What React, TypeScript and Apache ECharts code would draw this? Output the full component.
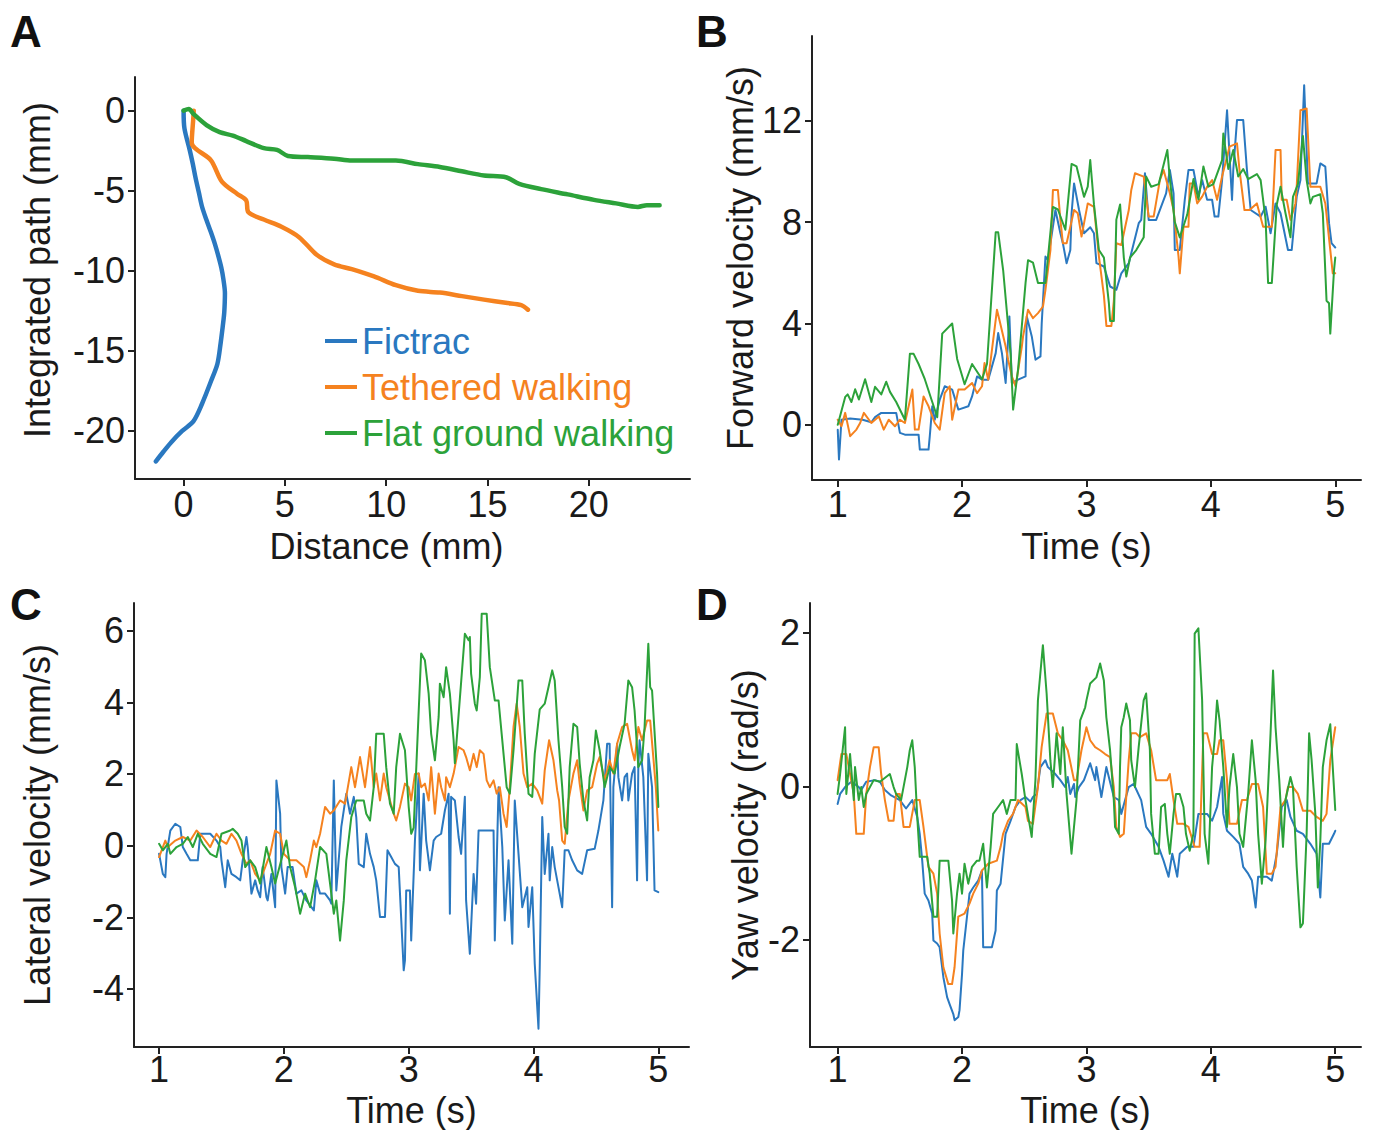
import React, { useEffect, useRef } from 'react';
import * as echarts from 'echarts';

const FONT = '"Liberation Sans", Arial, Helvetica, sans-serif';
const TEXT = '#1a1a1a';
const AXIS = '#222222';
const BLUE = '#2a78c0';
const ORANGE = '#f5821f';
const GREEN = '#2ca23a';

const seriesNames = ['Fictrac', 'Tethered walking', 'Flat ground walking'];

// Panel A: integrated path [distance mm, integrated path mm]
const aFictrac = [[0,0],[0.04,-1.1],[0.3,-2.45],[0.45,-3.3],[0.59,-4.2],[0.75,-5.1],[0.91,-6.0],[1.12,-6.8],[1.35,-7.6],[1.55,-8.35],[1.72,-9.1],[1.86,-9.8],[1.96,-10.5],[2.04,-11.4],[2.03,-12.0],[2.0,-12.7],[1.92,-13.6],[1.83,-14.5],[1.67,-15.8],[1.35,-16.9],[0.91,-18.3],[0.48,-19.4],[-0.07,-20.0],[-0.61,-20.7],[-1.0,-21.3],[-1.37,-21.9]];
const aTethered = [[0.5,0],[0.48,-0.45],[0.4,-2.0],[1.35,-3.1],[1.9,-4.45],[2.65,-5.2],[3.09,-5.6],[3.2,-6.35],[3.96,-6.8],[4.83,-7.25],[5.7,-7.9],[6.57,-9.0],[7.43,-9.6],[8.3,-9.9],[9.4,-10.35],[10.48,-10.9],[11.57,-11.25],[12.65,-11.36],[13.74,-11.58],[14.83,-11.8],[15.9,-12.0],[16.67,-12.14],[17.0,-12.43]];
const aFlat = [[0,0],[0.26,0.1],[0.48,-0.2],[1.13,-0.9],[1.78,-1.34],[2.43,-1.56],[3.09,-1.9],[3.96,-2.34],[4.61,-2.45],[5.15,-2.83],[6.13,-2.9],[7.43,-3.0],[8.3,-3.12],[10.48,-3.12],[11.57,-3.34],[12.65,-3.52],[13.74,-3.79],[14.83,-4.05],[15.91,-4.16],[16.57,-4.57],[17.65,-4.9],[18.96,-5.23],[20.26,-5.57],[21.35,-5.79],[22.43,-6.01],[22.87,-5.9],[23.5,-5.9]];

// Panel B: forward velocity [time s, mm/s]
const bFictrac = [[1.0,-0.2],[1.01,-1.37],[1.03,0.2],[1.1,0.25],[1.2,0.2],[1.27,0.1],[1.3,0.3],[1.35,0.47],[1.47,0.47],[1.5,-0.32],[1.54,-0.39],[1.65,-0.39],[1.66,-0.98],[1.73,-0.98],[1.74,-0.45],[1.76,0.73],[1.78,0.2],[1.82,0.99],[1.86,1.52],[1.92,1.39],[1.97,0.6],[2.05,0.73],[2.08,1.12],[2.12,1.91],[2.16,1.78],[2.21,1.78],[2.27,2.83],[2.29,3.62],[2.32,2.83],[2.35,1.65],[2.38,4.28],[2.4,1.65],[2.45,1.78],[2.51,1.91],[2.52,4.28],[2.56,3.49],[2.59,2.57],[2.63,2.7],[2.64,4.01],[2.67,6.64],[2.69,6.51],[2.75,8.48],[2.79,7.56],[2.81,7.17],[2.84,6.38],[2.87,6.9],[2.88,8.35],[2.9,9.53],[2.94,8.48],[2.98,7.56],[3.03,7.8],[3.06,7.56],[3.08,6.38],[3.14,6.25],[3.19,5.46],[3.24,5.33],[3.28,5.98],[3.34,6.38],[3.42,7.96],[3.44,8.09],[3.47,9.93],[3.5,8.09],[3.56,8.09],[3.64,9.14],[3.67,10.06],[3.7,9.14],[3.71,6.9],[3.75,6.9],[3.79,8.88],[3.82,10.06],[3.86,10.06],[3.9,9.01],[3.93,9.66],[3.97,8.88],[4.01,8.88],[4.03,8.22],[4.06,8.22],[4.09,9.66],[4.13,12.42],[4.17,8.88],[4.18,10.06],[4.21,12.03],[4.26,12.03],[4.29,10.06],[4.32,8.48],[4.4,8.22],[4.44,8.61],[4.48,7.56],[4.52,8.74],[4.56,8.35],[4.62,6.9],[4.65,6.9],[4.69,9.01],[4.72,9.66],[4.75,13.41],[4.78,9.53],[4.85,9.53],[4.88,10.32],[4.92,10.19],[4.95,7.96],[4.97,7.17],[5.0,7.0]];
const bTethered = [[1.0,0.2],[1.03,-0.06],[1.06,0.47],[1.1,-0.45],[1.15,-0.19],[1.18,0.07],[1.21,0.47],[1.27,0.07],[1.33,0.33],[1.37,-0.19],[1.41,0.2],[1.46,-0.06],[1.5,0.2],[1.54,0.07],[1.6,1.39],[1.62,-0.19],[1.65,-0.19],[1.69,1.12],[1.73,0.73],[1.78,0.07],[1.82,-0.19],[1.86,1.25],[1.9,1.52],[1.92,0.2],[1.97,1.39],[2.02,1.39],[2.08,1.65],[2.12,1.25],[2.16,1.52],[2.18,2.44],[2.21,1.78],[2.28,4.54],[2.3,4.14],[2.35,3.09],[2.37,2.57],[2.4,1.91],[2.43,1.52],[2.48,3.09],[2.49,3.49],[2.53,4.54],[2.57,4.21],[2.61,4.41],[2.65,4.67],[2.67,5.33],[2.71,6.9],[2.73,9.27],[2.77,9.27],[2.79,8.09],[2.81,7.17],[2.84,7.17],[2.87,7.82],[2.9,8.48],[2.93,8.35],[2.96,7.43],[3.01,8.74],[3.06,8.6],[3.1,6.64],[3.14,5.1],[3.16,3.9],[3.2,3.9],[3.22,4.9],[3.24,7.17],[3.28,7.1],[3.34,8.48],[3.36,9.27],[3.39,9.93],[3.46,9.8],[3.5,8.22],[3.54,8.22],[3.59,9.66],[3.62,10.06],[3.67,9.14],[3.7,8.48],[3.74,6.64],[3.75,5.98],[3.78,7.82],[3.82,7.82],[3.83,9.53],[3.86,9.53],[3.89,8.74],[3.93,9.01],[3.97,9.4],[4.01,9.66],[4.05,8.88],[4.09,9.8],[4.15,10.98],[4.21,11.11],[4.23,10.06],[4.27,8.48],[4.31,8.48],[4.37,8.74],[4.42,7.82],[4.49,7.82],[4.52,10.85],[4.56,10.85],[4.57,8.88],[4.61,8.88],[4.64,8.09],[4.68,8.74],[4.69,9.4],[4.72,12.42],[4.77,12.49],[4.8,9.4],[4.88,9.4],[4.92,8.74],[4.98,5.98],[5.0,5.98]];
const bFlat = [[1.0,0.0],[1.06,1.1],[1.08,1.2],[1.11,0.9],[1.14,1.4],[1.17,1.0],[1.22,1.8],[1.27,0.9],[1.3,1.5],[1.35,1.2],[1.39,1.7],[1.42,1.3],[1.47,0.9],[1.54,0.2],[1.58,2.8],[1.61,2.8],[1.65,2.4],[1.7,1.8],[1.76,0.9],[1.8,0.3],[1.84,3.6],[1.92,4.0],[1.96,2.6],[2.02,1.6],[2.08,2.4],[2.16,1.8],[2.2,2.4],[2.27,7.6],[2.29,7.6],[2.33,6.1],[2.39,2.8],[2.41,0.6],[2.45,2.2],[2.51,5.6],[2.53,6.5],[2.57,6.4],[2.61,5.6],[2.67,5.6],[2.69,6.6],[2.73,8.6],[2.77,8.5],[2.83,7.7],[2.88,10.3],[2.92,10.2],[2.98,9.0],[3.01,9.4],[3.03,10.45],[3.06,8.7],[3.1,6.9],[3.14,6.6],[3.18,4.8],[3.19,4.1],[3.22,4.1],[3.24,8.1],[3.27,8.7],[3.3,6.6],[3.32,5.85],[3.35,6.6],[3.4,6.9],[3.46,7.4],[3.48,9.8],[3.52,9.4],[3.58,9.5],[3.65,10.85],[3.67,9.7],[3.71,8.0],[3.75,7.4],[3.81,8.3],[3.86,9.7],[3.9,8.9],[3.94,10.2],[3.98,9.4],[4.02,9.5],[4.09,10.45],[4.1,11.5],[4.14,10.1],[4.18,10.85],[4.22,9.8],[4.26,10.1],[4.3,9.7],[4.37,9.9],[4.4,9.66],[4.44,8.1],[4.46,5.6],[4.49,5.6],[4.53,8.7],[4.56,9.4],[4.6,8.35],[4.64,7.4],[4.66,9.0],[4.7,9.5],[4.74,11.4],[4.77,9.66],[4.8,8.74],[4.82,9.0],[4.88,9.1],[4.9,8.35],[4.93,4.9],[4.95,4.8],[4.96,3.6],[4.99,6.1],[5.0,6.6]];

// Panel C: lateral velocity [time s, mm/s]
const cFictrac = [[1.0,-0.23],[1.03,-0.79],[1.05,-0.88],[1.06,-0.23],[1.09,0.42],[1.13,0.61],[1.17,0.52],[1.19,-0.04],[1.22,-0.23],[1.25,-0.41],[1.31,-0.41],[1.33,0.33],[1.41,0.33],[1.46,0.14],[1.49,-0.04],[1.5,-0.41],[1.53,-1.16],[1.55,-0.41],[1.58,-0.79],[1.62,-0.88],[1.65,-0.97],[1.67,-0.41],[1.7,0.24],[1.71,-0.04],[1.74,-1.34],[1.77,-0.97],[1.79,-1.25],[1.81,-1.44],[1.83,-0.6],[1.86,-1.44],[1.87,-1.53],[1.9,-0.79],[1.93,-1.72],[1.94,1.82],[1.97,0.89],[1.98,-0.6],[2.01,-1.34],[2.03,-0.6],[2.07,-0.6],[2.1,-1.34],[2.14,-1.25],[2.18,-1.53],[2.24,-1.81],[2.26,-0.97],[2.29,-1.34],[2.33,-1.34],[2.37,-1.53],[2.38,-1.62],[2.4,1.82],[2.42,-1.25],[2.46,0.52],[2.5,1.45],[2.53,0.89],[2.56,1.36],[2.58,0.79],[2.6,-0.51],[2.64,-0.6],[2.66,0.33],[2.69,-0.23],[2.72,-0.6],[2.74,-0.97],[2.77,-1.99],[2.81,-1.99],[2.83,-0.13],[2.86,-0.32],[2.89,-0.51],[2.92,-0.6],[2.96,-3.48],[2.97,-3.2],[2.98,-1.25],[3.01,-1.25],[3.02,-2.65],[3.05,0.14],[3.08,2.01],[3.09,-0.69],[3.12,1.45],[3.14,0.14],[3.17,-0.69],[3.2,0.14],[3.22,0.24],[3.26,0.33],[3.29,0.98],[3.32,1.45],[3.33,-1.9],[3.34,1.36],[3.37,1.26],[3.4,0.24],[3.42,-0.23],[3.45,1.36],[3.46,-1.53],[3.49,-3.02],[3.52,-0.79],[3.54,-1.62],[3.56,0.42],[3.68,0.42],[3.69,-2.65],[3.72,1.63],[3.75,-0.04],[3.77,-2.09],[3.8,-0.41],[3.83,-2.74],[3.85,1.26],[3.88,-0.23],[3.91,-1.72],[3.95,-1.16],[3.96,-2.27],[3.99,-1.16],[4.01,-3.3],[4.04,-5.11],[4.05,-3.39],[4.07,0.8],[4.09,-0.79],[4.12,0.33],[4.13,-0.97],[4.15,-0.04],[4.17,-0.6],[4.2,-1.16],[4.23,-1.72],[4.25,-0.13],[4.28,-0.13],[4.31,-0.41],[4.35,-0.69],[4.39,-0.79],[4.43,-0.13],[4.49,-0.09],[4.52,0.42],[4.56,1.26],[4.59,2.84],[4.61,2.84],[4.63,-1.72],[4.64,1.63],[4.67,2.84],[4.68,1.91],[4.71,1.26],[4.73,1.91],[4.75,2.01],[4.76,1.26],[4.79,2.01],[4.81,2.19],[4.83,-0.97],[4.84,2.19],[4.85,2.94],[4.88,1.91],[4.91,-0.97],[4.92,2.56],[4.95,1.63],[4.97,-1.25],[5.0,-1.3]];
const cTethered = [[1.0,-0.32],[1.05,0.14],[1.07,-0.04],[1.13,0.14],[1.19,0.24],[1.25,0.14],[1.3,0.42],[1.35,0.24],[1.41,-0.04],[1.46,0.33],[1.5,0.14],[1.54,0.05],[1.58,0.33],[1.62,0.14],[1.66,-0.23],[1.7,-0.51],[1.73,-0.41],[1.77,-0.79],[1.81,-0.97],[1.85,-0.6],[1.89,-0.23],[1.93,0.42],[1.97,0.33],[2.0,-0.23],[2.05,-0.41],[2.1,-0.41],[2.16,-0.6],[2.18,-0.88],[2.21,-0.41],[2.24,0.14],[2.26,-0.04],[2.29,0.33],[2.33,1.08],[2.37,0.89],[2.4,0.98],[2.45,1.26],[2.49,1.17],[2.54,2.19],[2.57,1.63],[2.61,2.47],[2.65,1.63],[2.69,2.75],[2.72,1.63],[2.74,2.01],[2.77,1.26],[2.8,2.01],[2.82,1.63],[2.85,1.26],[2.88,0.89],[2.9,0.7],[2.93,1.08],[2.97,1.73],[3.0,1.63],[3.02,1.26],[3.05,2.0],[3.08,2.01],[3.1,1.63],[3.13,1.73],[3.16,1.26],[3.18,2.19],[3.21,0.89],[3.24,2.01],[3.26,1.63],[3.29,1.26],[3.3,1.91],[3.33,1.63],[3.36,2.01],[3.4,2.75],[3.44,2.66],[3.46,2.47],[3.49,2.1],[3.52,2.56],[3.545,2.19],[3.57,2.66],[3.6,2.56],[3.625,1.82],[3.65,1.63],[3.68,1.82],[3.705,1.45],[3.73,1.63],[3.76,0.89],[3.785,0.52],[3.81,1.63],[3.84,3.31],[3.865,3.96],[3.89,3.31],[3.92,2.01],[3.95,1.63],[3.99,1.73],[4.03,1.54],[4.07,1.17],[4.09,2.1],[4.125,2.94],[4.16,2.38],[4.19,1.54],[4.205,1.26],[4.23,0.14],[4.25,0.05],[4.28,1.26],[4.32,2.01],[4.35,2.38],[4.37,1.73],[4.4,0.98],[4.43,1.54],[4.47,1.63],[4.51,2.29],[4.53,2.47],[4.57,1.82],[4.61,2.38],[4.64,2.01],[4.67,2.84],[4.71,3.31],[4.75,3.4],[4.79,2.66],[4.81,2.38],[4.84,3.31],[4.87,2.94],[4.91,3.49],[4.935,3.49],[4.96,2.47],[4.98,1.63],[5.0,0.42]];
const cFlat = [[1.0,0.05],[1.03,-0.13],[1.07,0.05],[1.09,-0.23],[1.14,-0.04],[1.19,0.05],[1.23,0.24],[1.27,-0.04],[1.31,0.33],[1.35,0.05],[1.41,-0.23],[1.46,-0.32],[1.5,0.33],[1.57,0.42],[1.59,0.47],[1.63,0.33],[1.66,0.14],[1.69,-0.6],[1.73,-0.41],[1.77,-0.6],[1.81,-1.06],[1.86,-0.04],[1.9,-0.6],[1.93,-1.06],[2.02,0.14],[2.05,-0.6],[2.09,-1.16],[2.13,-1.9],[2.17,-1.34],[2.21,-1.72],[2.25,-0.97],[2.29,-0.04],[2.34,-0.23],[2.4,-1.9],[2.42,-1.53],[2.45,-2.65],[2.48,-1.53],[2.5,-0.41],[2.54,0.79],[2.58,1.26],[2.64,1.26],[2.66,0.89],[2.69,0.7],[2.72,1.63],[2.74,3.12],[2.8,3.12],[2.82,2.19],[2.85,1.17],[2.88,0.89],[2.9,2.19],[2.93,3.12],[2.97,2.66],[3.0,1.08],[3.02,0.33],[3.04,0.5],[3.1,5.36],[3.13,5.17],[3.16,4.24],[3.18,3.12],[3.21,2.38],[3.24,3.59],[3.25,4.52],[3.28,4.14],[3.3,4.98],[3.33,4.24],[3.36,2.94],[3.37,2.3],[3.45,5.91],[3.48,5.73],[3.49,5.82],[3.5,4.8],[3.53,3.96],[3.545,3.77],[3.57,4.7],[3.585,6.47],[3.625,6.47],[3.65,4.98],[3.69,4.05],[3.72,4.05],[3.745,3.12],[3.785,1.63],[3.81,1.45],[3.84,2.66],[3.88,4.61],[3.91,4.61],[3.93,3.12],[3.96,1.45],[3.99,1.36],[4.01,2.56],[4.05,3.8],[4.09,3.96],[4.12,4.42],[4.15,4.89],[4.17,4.61],[4.2,2.94],[4.23,1.63],[4.25,0.52],[4.27,0.33],[4.29,2.19],[4.32,3.4],[4.35,3.31],[4.37,2.29],[4.4,1.26],[4.43,0.7],[4.45,1.91],[4.48,2.38],[4.5,3.21],[4.53,2.66],[4.57,1.63],[4.61,2.19],[4.65,2.01],[4.69,2.75],[4.73,3.4],[4.76,4.61],[4.79,4.42],[4.81,3.77],[4.84,2.19],[4.87,2.38],[4.89,3.31],[4.92,5.63],[4.935,4.42],[4.95,4.33],[4.99,2.01],[5.0,1.08]];

// Panel D: yaw velocity [time s, rad/s]
const dFictrac = [[1.0,-0.23],[1.02,-0.1],[1.06,-0.01],[1.11,0.06],[1.17,-0.01],[1.19,-0.05],[1.23,0.06],[1.3,0.08],[1.34,0.06],[1.38,-0.05],[1.43,-0.12],[1.5,-0.18],[1.55,-0.29],[1.6,-0.18],[1.64,-0.4],[1.66,-0.62],[1.68,-0.97],[1.7,-1.4],[1.73,-1.49],[1.76,-1.66],[1.77,-2.01],[1.8,-2.05],[1.82,-2.1],[1.85,-2.49],[1.88,-2.75],[1.9,-2.84],[1.93,-2.97],[1.94,-3.05],[1.97,-3.01],[1.98,-2.92],[2.0,-2.45],[2.01,-2.14],[2.04,-1.7],[2.06,-1.4],[2.09,-1.32],[2.13,-1.23],[2.16,-1.1],[2.17,-2.1],[2.24,-2.1],[2.27,-1.88],[2.28,-1.36],[2.31,-1.27],[2.35,-0.62],[2.39,-0.45],[2.43,-0.27],[2.47,-0.18],[2.51,-0.14],[2.55,-0.2],[2.57,-0.14],[2.6,-0.1],[2.63,0.25],[2.67,0.34],[2.69,0.25],[2.75,0.16],[2.79,0.08],[2.83,-0.01],[2.85,0.12],[2.87,-0.1],[2.9,0.03],[2.91,-0.14],[2.94,-0.01],[2.98,0.08],[3.03,0.3],[3.07,0.08],[3.08,0.25],[3.12,-0.14],[3.16,0.25],[3.2,-0.01],[3.22,-0.14],[3.26,-0.18],[3.28,-0.36],[3.34,-0.01],[3.38,0.03],[3.44,-0.18],[3.48,-0.53],[3.52,-0.62],[3.58,-0.79],[3.62,-0.97],[3.66,-1.18],[3.69,-0.88],[3.73,-1.18],[3.75,-0.88],[3.81,-0.79],[3.86,-0.79],[3.9,-0.36],[3.97,-0.36],[4.01,-0.45],[4.05,-0.27],[4.09,0.12],[4.1,-0.36],[4.13,-0.58],[4.18,-0.66],[4.23,-0.75],[4.26,-1.05],[4.3,-1.14],[4.33,-1.23],[4.36,-1.58],[4.38,-1.18],[4.45,-1.18],[4.49,-1.23],[4.53,-0.88],[4.57,-0.27],[4.61,-0.18],[4.64,-0.4],[4.69,-0.58],[4.74,-0.62],[4.8,-0.75],[4.85,-0.88],[4.88,-1.45],[4.9,-0.75],[4.95,-0.75],[4.99,-0.62],[5.0,-0.58]];
const dTethered = [[1.0,0.08],[1.03,0.42],[1.07,0.42],[1.1,0.16],[1.13,-0.1],[1.15,-0.62],[1.21,-0.62],[1.23,-0.1],[1.26,0.25],[1.29,0.51],[1.33,0.51],[1.35,0.16],[1.38,-0.18],[1.41,-0.45],[1.45,-0.45],[1.47,-0.1],[1.5,-0.1],[1.53,-0.53],[1.58,-0.53],[1.62,-0.18],[1.66,-0.18],[1.69,-0.53],[1.73,-1.05],[1.77,-1.14],[1.8,-1.4],[1.82,-1.92],[1.85,-2.36],[1.89,-2.58],[1.92,-2.58],[1.94,-2.36],[1.97,-1.7],[2.02,-1.66],[2.06,-1.53],[2.09,-1.4],[2.13,-1.27],[2.16,-1.1],[2.21,-1.01],[2.28,-0.97],[2.31,-0.79],[2.33,-0.62],[2.37,-0.45],[2.41,-0.36],[2.45,-0.18],[2.51,-0.27],[2.53,-0.45],[2.57,-0.49],[2.61,-0.01],[2.64,0.51],[2.68,0.95],[2.73,0.95],[2.77,0.69],[2.81,0.6],[2.85,0.47],[2.9,0.08],[2.92,0.08],[2.96,0.47],[3.0,0.77],[3.03,0.6],[3.07,0.51],[3.11,0.47],[3.15,0.42],[3.19,0.38],[3.22,-0.01],[3.24,-0.53],[3.27,-0.66],[3.3,-0.62],[3.34,0.34],[3.36,0.69],[3.4,0.69],[3.43,0.64],[3.48,0.69],[3.52,0.47],[3.56,0.08],[3.65,0.08],[3.67,0.16],[3.7,-0.18],[3.73,-0.49],[3.78,-0.49],[3.82,-0.53],[3.87,-0.79],[3.91,-0.79],[3.94,0.69],[3.97,0.69],[4.01,0.42],[4.05,0.42],[4.07,0.6],[4.1,0.6],[4.13,0.08],[4.15,-0.49],[4.21,-0.49],[4.25,-0.18],[4.29,-0.18],[4.33,0.03],[4.38,0.03],[4.42,-0.27],[4.45,-1.14],[4.49,-1.14],[4.52,-1.05],[4.56,-0.27],[4.6,-0.18],[4.62,-0.01],[4.66,-0.01],[4.7,-0.1],[4.74,-0.32],[4.8,-0.32],[4.85,-0.4],[4.9,-0.45],[4.93,-0.36],[4.96,0.34],[5.0,0.77]];
const dFlat = [[1.0,-0.1],[1.02,0.16],[1.06,0.77],[1.07,-0.1],[1.1,0.42],[1.13,-0.18],[1.14,0.25],[1.17,-0.18],[1.19,-0.01],[1.21,-0.27],[1.23,-0.1],[1.29,0.08],[1.34,0.06],[1.42,0.16],[1.45,-0.01],[1.47,-0.1],[1.51,-0.18],[1.56,0.25],[1.58,0.47],[1.6,0.6],[1.62,0.25],[1.64,-0.4],[1.66,-0.92],[1.72,-0.92],[1.74,-1.14],[1.77,-1.7],[1.8,-1.7],[1.82,-0.97],[1.89,-0.97],[1.92,-1.49],[1.93,-1.92],[1.96,-1.4],[1.98,-1.14],[2.0,-1.4],[2.02,-1.01],[2.05,-1.27],[2.08,-1.05],[2.12,-0.97],[2.14,-0.97],[2.17,-0.75],[2.2,-1.32],[2.23,-0.79],[2.25,-0.36],[2.29,-0.27],[2.33,-0.18],[2.36,-0.36],[2.39,-0.18],[2.43,-0.18],[2.44,0.55],[2.48,0.16],[2.51,-0.18],[2.56,-0.66],[2.59,0.08],[2.61,1.12],[2.65,1.84],[2.68,1.21],[2.71,0.34],[2.73,-0.01],[2.76,0.69],[2.79,0.16],[2.81,0.77],[2.84,-0.1],[2.88,-0.88],[2.92,-0.18],[2.95,0.86],[2.99,1.03],[3.0,1.12],[3.03,1.34],[3.08,1.42],[3.11,1.6],[3.14,1.38],[3.16,0.9],[3.19,0.47],[3.22,-0.18],[3.23,-0.53],[3.26,-0.62],[3.27,0.25],[3.28,0.77],[3.3,0.9],[3.32,1.08],[3.35,0.86],[3.36,0.34],[3.39,-0.01],[3.42,0.51],[3.46,1.12],[3.48,1.21],[3.51,0.47],[3.52,-0.36],[3.55,-0.88],[3.58,-0.88],[3.6,-0.27],[3.63,-0.23],[3.65,-0.62],[3.67,-0.88],[3.7,-0.36],[3.72,-0.1],[3.75,-0.1],[3.78,-0.27],[3.8,-0.62],[3.83,-0.84],[3.86,-0.62],[3.87,1.99],[3.9,2.06],[3.93,1.12],[3.95,-0.62],[3.98,-1.01],[4.01,0.25],[4.03,0.6],[4.05,1.12],[4.07,0.86],[4.1,0.25],[4.13,-0.53],[4.15,-0.01],[4.18,0.42],[4.21,-0.01],[4.23,-0.62],[4.26,-0.79],[4.3,-0.1],[4.33,0.6],[4.36,0.08],[4.38,-0.62],[4.41,-1.27],[4.44,-0.71],[4.48,0.69],[4.5,1.51],[4.52,0.77],[4.55,0.08],[4.58,-0.79],[4.6,-0.18],[4.64,0.12],[4.66,-0.01],[4.69,-1.05],[4.72,-1.84],[4.74,-1.79],[4.77,-0.62],[4.79,0.69],[4.81,0.34],[4.84,-0.36],[4.86,-1.32],[4.88,-0.71],[4.9,0.25],[4.93,0.6],[4.96,0.81],[4.98,0.25],[5.0,-0.31]];

// Tick values
const aXTicks = [0, 5, 10, 15, 20];
const aYTicks = [-20, -15, -10, -5, 0];
const timeTicks = [1, 2, 3, 4, 5];
const bYTicks = [0, 4, 8, 12];
const cYTicks = [-4, -2, 0, 2, 4, 6];
const dYTicks = [-2, 0, 2];

const colors = [BLUE, ORANGE, GREEN];

function xAxis(gridIndex: number, min: number, max: number, ticks: number[], name: string, nameGap: number, labelMargin: number, namePadding: number[]) {
  return {
    type: 'value', gridIndex, min, max, name, nameLocation: 'middle', nameGap,
    nameTextStyle: { fontSize: 36, color: TEXT, fontFamily: FONT, lineHeight: 30, padding: namePadding },
    axisLine: { show: true, onZero: false, lineStyle: { color: AXIS, width: 2 } },
    axisTick: { show: true, length: 7, customValues: ticks, lineStyle: { color: AXIS, width: 2 } },
    axisLabel: { customValues: ticks, fontSize: 36, color: TEXT, fontFamily: FONT, margin: labelMargin, lineHeight: 30 },
    splitLine: { show: false },
  };
}

function yAxis(gridIndex: number, min: number, max: number, ticks: number[], name: string, nameGap: number, namePadding: number[]) {
  return {
    type: 'value', gridIndex, min, max, name, nameLocation: 'middle', nameGap,
    nameTextStyle: { fontSize: 36, color: TEXT, fontFamily: FONT, padding: namePadding },
    axisLine: { show: true, onZero: false, lineStyle: { color: AXIS, width: 2 } },
    axisTick: { show: true, length: 7, customValues: ticks, lineStyle: { color: AXIS, width: 2 } },
    axisLabel: { customValues: ticks, fontSize: 36, color: TEXT, fontFamily: FONT, margin: 10 },
    splitLine: { show: false },
  };
}

function lines(idx: number, datasets: number[][][], width: number, smooth: number | boolean) {
  return datasets.map((d, i) => ({
    type: 'line', name: seriesNames[i], xAxisIndex: idx, yAxisIndex: idx,
    data: d, showSymbol: false, symbol: 'none', smooth,
    lineStyle: { color: colors[i], width, join: 'round', cap: 'round' }, itemStyle: { color: colors[i] },
    emphasis: { disabled: true }, z: 2 + i,
  }));
}

function letter(text: string, left: number, top: number) {
  return { type: 'text', left, top, style: { text, font: `bold 44px ${FONT}`, fill: '#111' } };
}

export default function App() {
  const ref = useRef<HTMLDivElement>(null);
  useEffect(() => {
    if (!ref.current) return;
    const chart = echarts.init(ref.current, undefined, { renderer: 'svg' });
    chart.setOption({
      animation: false,
      backgroundColor: '#ffffff',
      textStyle: { fontFamily: FONT },
      grid: [
        { left: 135, top: 77, width: 555, height: 402 },
        { left: 812, top: 36, width: 549, height: 444 },
        { left: 134, top: 603, width: 555, height: 444 },
        { left: 810, top: 603, width: 551, height: 444 },
      ],
      xAxis: [
        xAxis(0, -2.4, 25, aXTicks, 'Distance (mm)', 52, 10, [0, 52, 0, 0]),
        xAxis(1, 0.793, 5.207, timeTicks, 'Time (s)', 51, 9, [0, 0, 0, 0]),
        xAxis(2, 0.799, 5.246, timeTicks, 'Time (s)', 48, 7, [0, 0, 0, 0]),
        xAxis(3, 0.778, 5.207, timeTicks, 'Time (s)', 48, 7, [0, 0, 0, 0]),
      ],
      yAxis: [
        yAxis(0, -23, 2.1, aYTicks, 'Integrated path (mm)', 80, [0, 0, 0, 16]),
        yAxis(1, -2.18, 15.35, bYTicks, 'Forward velocity (mm/s)', 50, [0, 0, 0, 0]),
        yAxis(2, -5.62, 6.77, cYTicks, 'Lateral velocity (mm/s)', 79, [0, 0, 0, 0]),
        yAxis(3, -3.4, 2.39, dYTicks, 'Yaw velocity (rad/s)', 47, [0, 0, 0, 0]),
      ],
      legend: {
        orient: 'vertical', left: 320, top: 316, itemWidth: 32, itemHeight: 4, itemGap: 6,
        icon: 'rect', selectedMode: false,
        textStyle: { fontSize: 36, fontFamily: FONT, lineHeight: 40 },
        data: [
          { name: 'Fictrac', textStyle: { color: BLUE } },
          { name: 'Tethered walking', textStyle: { color: ORANGE } },
          { name: 'Flat ground walking', textStyle: { color: GREEN } },
        ],
      },
      graphic: [letter('A', 10, 9), letter('B', 696, 9), letter('C', 10, 582), letter('D', 696, 582)],
      series: [
        ...lines(0, [aFictrac, aTethered, aFlat], 4.5, 0.3),
        ...lines(1, [bFictrac, bTethered, bFlat], 2, false),
        ...lines(2, [cFictrac, cTethered, cFlat], 2, false),
        ...lines(3, [dFictrac, dTethered, dFlat], 2, false),
      ],
    });
    return () => chart.dispose();
  }, []);
  return <div ref={ref} style={{ position: 'absolute', left: 0, top: 0, width: 1375, height: 1130 }} />;
}
